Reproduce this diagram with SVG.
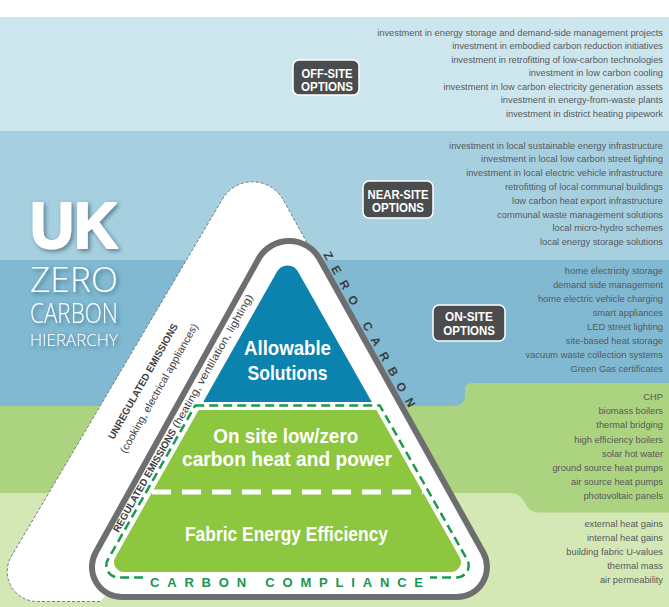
<svg xmlns="http://www.w3.org/2000/svg" width="669" height="607" viewBox="0 0 669 607">
<defs>
<style>
.lst{font-family:"Liberation Sans",Arial,sans-serif;font-size:9.3px;fill:#58595b;text-anchor:end}
.opt rect{fill:#4b4c4e;stroke:#ffffff;stroke-width:1.5}
.opt text{font-family:"Liberation Sans",Arial,sans-serif;font-weight:bold;font-size:12.5px;fill:#ffffff}
.lbl{font-family:"Liberation Sans",Arial,sans-serif;font-weight:bold;font-size:21px;fill:#ffffff}
.ttl{font-family:"Open Sans","Liberation Sans",sans-serif;font-weight:300;fill:#ffffff}
.side{font-family:"Liberation Sans",Arial,sans-serif;fill:#3d3d3f}
.gdash{fill:none;stroke:#1b9a4c;stroke-width:2.5;stroke-dasharray:9 5}
</style>
<filter id="sh" x="-20%" y="-20%" width="150%" height="150%">
<feDropShadow dx="2" dy="2" stdDeviation="2" flood-color="#0b3a4d" flood-opacity="0.55"/>
</filter>
</defs>

<g id="background">
<rect x="0" y="0" width="669" height="607" fill="#ffffff"/>
<rect x="0" y="17" width="669" height="114" fill="#cde6ee"/>
<rect x="0" y="131" width="669" height="129" fill="#a6cfdf"/>
<rect x="0" y="260" width="669" height="160" fill="#80b9d1"/>
<path d="M0,406 L452,406 C461,406 465,402 465,395 L465,390 C465,385 468,383 473,383 L669,383 L669,607 L0,607 Z" fill="#acd37f"/>
<path d="M0,493 L508,493 C518,493 522,497 525,503 C528,509 532,512.5 540,512.5 L669,512.5 L669,607 L0,607 Z" fill="#d3e8b4"/>
</g>

<g id="title" filter="url(#sh)">
<text x="30" y="248" font-family="Liberation Sans, Arial, sans-serif" font-weight="bold" font-size="64" fill="#ffffff" stroke="#ffffff" stroke-width="2" stroke-linejoin="round" textLength="88" lengthAdjust="spacingAndGlyphs">UK</text>
<text class="ttl" x="30" y="292" font-size="35" textLength="88" lengthAdjust="spacingAndGlyphs">ZERO</text>
<text class="ttl" x="30" y="323" font-size="27.5" textLength="88" lengthAdjust="spacingAndGlyphs">CARBON</text>
<text class="ttl" x="30" y="345.5" font-size="17" textLength="88" lengthAdjust="spacingAndGlyphs">HIERARCHY</text>
</g>

<g id="node-offsite" class="opt">
<rect x="293" y="60" width="66" height="35" rx="6"/>
<text x="301.5" y="77.5" textLength="51" lengthAdjust="spacingAndGlyphs">OFF-SITE</text>
<text x="301" y="90.8" textLength="52" lengthAdjust="spacingAndGlyphs">OPTIONS</text>
</g>
<g id="node-nearsite" class="opt">
<rect x="363" y="181" width="70" height="37" rx="6"/>
<text x="367.5" y="198.8" textLength="61" lengthAdjust="spacingAndGlyphs">NEAR-SITE</text>
<text x="372" y="212.3" textLength="52" lengthAdjust="spacingAndGlyphs">OPTIONS</text>
</g>
<g id="node-onsite" class="opt">
<rect x="433" y="305" width="72" height="36" rx="6"/>
<text x="445" y="321.2" textLength="48" lengthAdjust="spacingAndGlyphs">ON-SITE</text>
<text x="443.3" y="335" textLength="51.7" lengthAdjust="spacingAndGlyphs">OPTIONS</text>
</g>

<g id="list-offsite" class="lst">
<text x="663" y="35.5">investment in energy storage and demand-side management projects</text>
<text x="663" y="49">investment in embodied carbon reduction initiatives</text>
<text x="663" y="62.5">investment in retrofitting of low-carbon technologies</text>
<text x="663" y="76">investment in low carbon cooling</text>
<text x="663" y="89.5">investment in low carbon electricity generation assets</text>
<text x="663" y="103">investment in energy-from-waste plants</text>
<text x="663" y="116.5">investment in district heating pipework</text>
</g>
<g id="list-nearsite" class="lst">
<text x="663" y="148.5">investment in local sustainable energy infrastructure</text>
<text x="663" y="162.3">investment in local low carbon street lighting</text>
<text x="663" y="176.1">investment in local electric vehicle infrastructure</text>
<text x="663" y="189.9">retrofitting of local communal buildings</text>
<text x="663" y="203.7">low carbon heat export infrastructure</text>
<text x="663" y="217.5">communal waste management solutions</text>
<text x="663" y="231.3">local micro-hydro schemes</text>
<text x="663" y="245.1">local energy storage solutions</text>
</g>
<g id="list-onsite" class="lst">
<text x="663" y="274">home electricity storage</text>
<text x="663" y="288">demand side management</text>
<text x="663" y="302">home electric vehicle charging</text>
<text x="663" y="316">smart appliances</text>
<text x="663" y="330">LED street lighting</text>
<text x="663" y="343.8">site-based heat storage</text>
<text x="663" y="357.7">vacuum waste collection systems</text>
<text x="663" y="371.7">Green Gas certificates</text>
</g>
<g id="list-heatpower" class="lst">
<text x="663" y="400">CHP</text>
<text x="663" y="414.2">biomass boilers</text>
<text x="663" y="428.3">thermal bridging</text>
<text x="663" y="442.5">high efficiency boilers</text>
<text x="663" y="456.5">solar hot water</text>
<text x="663" y="470.7">ground source heat pumps</text>
<text x="663" y="484.8">air source heat pumps</text>
<text x="663" y="499">photovoltaic panels</text>
</g>
<g id="list-fabric" class="lst">
<text x="663" y="527.3">external heat gains</text>
<text x="663" y="541.2">internal heat gains</text>
<text x="663" y="555.1">building fabric U-values</text>
<text x="663" y="569">thermal mass</text>
<text x="663" y="582.9">air permeability</text>
</g>

<g id="unregulated">
<path d="M37.2,601.5 A30,30 0 0 1 11.4,556.2 L222.5,199 A35,35 0 0 1 283.2,199.8 L400,410 L110,590 L100,601.5 Z" fill="#ffffff"/>
<path d="M100,601.5 H37.2 A30,30 0 0 1 11.4,556.2 L222.5,199 A35,35 0 0 1 283.2,199.8 L330,284" fill="none" stroke="#77787a" stroke-width="1" stroke-dasharray="3 2"/>
<text class="side" transform="translate(146,383) rotate(-60.5)" text-anchor="middle" font-weight="bold" font-size="10" textLength="131" lengthAdjust="spacingAndGlyphs">UNREGULATED EMISSIONS</text>
<text class="side" transform="translate(162,390) rotate(-60.5)" text-anchor="middle" font-size="10.5" textLength="147" lengthAdjust="spacingAndGlyphs">(cooking, electrical appliances)</text>
</g>

<g id="zero-carbon">
<path d="M121.9,597 H457 A30,30 0 0 0 483.2,552.5 L319.7,259 A35,35 0 0 0 258.4,259.1 L95.7,552.5 A30,30 0 0 0 121.9,597 Z" fill="#ffffff" stroke="#6d6e70" stroke-width="6"/>
<text class="side" transform="translate(323,254.5) rotate(60.9)" font-weight="bold" font-size="12" textLength="176" lengthAdjust="spacing">ZERO CARBON</text>
</g>

<g id="allowable-solutions">
<path d="M203.2,402 L277.1,271.4 A12,12 0 0 1 297.9,271.4 L371.8,402 Z" fill="#0c82ae"/>
<text class="lbl" x="244" y="355" textLength="87" lengthAdjust="spacingAndGlyphs">Allowable</text>
<text class="lbl" x="247.5" y="379.5" textLength="80" lengthAdjust="spacingAndGlyphs">Solutions</text>
</g>

<g id="carbon-compliance">
<path d="M198.6,410 L376.4,410 L459.5,556.9 A10,10 0 0 1 450.7,572 L124.3,572 A10,10 0 0 1 115.5,556.9 Z" fill="#8dc63f"/>
<line x1="152" y1="492" x2="423" y2="492" stroke="#ffffff" stroke-width="5" stroke-dasharray="19 11"/>
<path class="gdash" d="M195.2,405.5 H379.8 L467,559.4 A12,12 0 0 1 456.4,577.5 H118.6 A12,12 0 0 1 108,559.4 Z"/>
<rect x="144" y="573.5" width="286" height="9" fill="#ffffff"/>
<text x="150" y="587" font-family="Liberation Sans, Arial, sans-serif" font-weight="bold" font-size="13" fill="#1a9550" textLength="273" lengthAdjust="spacing">CARBON COMPLIANCE</text>
<text class="lbl" x="213.3" y="442.7" textLength="145" lengthAdjust="spacingAndGlyphs">On site low/zero</text>
<text class="lbl" x="182" y="465.5" textLength="210" lengthAdjust="spacingAndGlyphs">carbon heat and power</text>
<text class="lbl" x="185" y="540.7" font-size="20" textLength="203" lengthAdjust="spacingAndGlyphs">Fabric Energy Efficiency</text>
<text class="side" transform="translate(118.5,533) rotate(-60.3)" font-weight="bold" font-size="10" textLength="117" lengthAdjust="spacingAndGlyphs">REGULATED EMISSIONS</text>
<text class="side" transform="translate(178,428.8) rotate(-60.3)" font-size="10.5" textLength="152" lengthAdjust="spacingAndGlyphs">(heating, ventilation, lighting)</text>
</g>

<g id="connectors"/>
</svg>
